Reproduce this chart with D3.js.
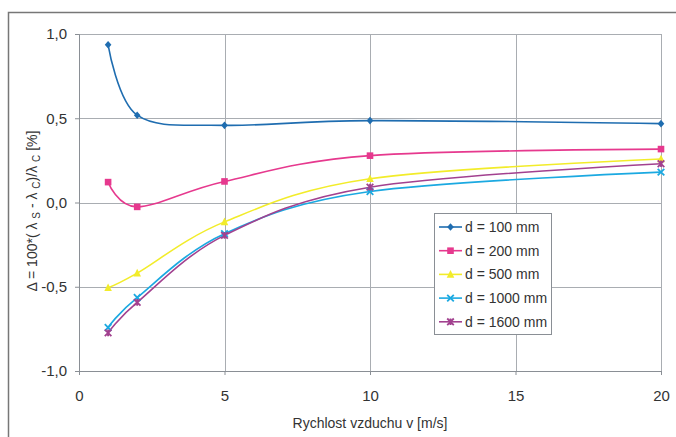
<!DOCTYPE html>
<html>
<head>
<meta charset="utf-8">
<script src="https://cdn.jsdelivr.net/npm/d3@7"></script>
<style>
  body { margin: 0; background: #fff; }
  svg { display: block; font-family: "Liberation Sans", Arial, sans-serif; }
</style>
</head>
<body>
<svg id="chart" width="676" height="437"></svg>
<script>
// data
const speeds = [1, 2, 5, 10, 20];
const d100 = [0.936, 0.518, 0.458, 0.486, 0.468];
const d200 = [0.121, -0.026, 0.125, 0.278, 0.317];
const d500 = [-0.506, -0.419, -0.115, 0.141, 0.258];
const d1000 = [-0.742, -0.564, -0.185, 0.065, 0.18];
const d1600 = [-0.774, -0.593, -0.195, 0.091, 0.23];
const xTicks = [0, 5, 10, 15, 20];
const yTicks = [-1, -0.5, 0, 0.5, 1];

const series = [
  {name: 'd = 100 mm', values: d100, color: '#1f6db0', symbol: 'diamond'},
  {name: 'd = 200 mm', values: d200, color: '#e6398e', symbol: 'square'},
  {name: 'd = 500 mm', values: d500, color: '#f2ec2a', symbol: 'triangle'},
  {name: 'd = 1000 mm', values: d1000, color: '#1ba9e1', symbol: 'cross'},
  {name: 'd = 1600 mm', values: d1600, color: '#a2418f', symbol: 'star'}
];

const svg = d3.select('#chart');
const margin = {top: 34, right: 15, bottom: 66, left: 79};
const width = 676 - margin.left - margin.right;
const height = 437 - margin.top - margin.bottom;

// outer frame (left + top edges visible)
svg.append('path')
  .attr('d', 'M8.5,437 V12.5 H676')
  .attr('fill', 'none')
  .attr('stroke', '#777')
  .attr('stroke-width', 1.5);

const g = svg.append('g').attr('transform', `translate(${margin.left}, ${margin.top})`);

const x = d3.scaleLinear().domain([0, 20]).range([0, width]);
const y = d3.scaleLinear().domain([-1, 1]).range([height, 0]);

const fmt = d => d3.format('.1f')(d).replace('.', ',').replace('−', '-');

// grid
g.append('g')
  .selectAll('line.h')
  .data(yTicks)
  .enter().append('line')
    .attr('x1', 0).attr('x2', width)
    .attr('y1', d => Math.round(y(d)) + 0.5).attr('y2', d => Math.round(y(d)) + 0.5)
    .attr('stroke', '#a9adb2');

g.append('g')
  .selectAll('line.v')
  .data(xTicks.slice(1))
  .enter().append('line')
    .attr('x1', d => Math.round(x(d)) + 0.5).attr('x2', d => Math.round(x(d)) + 0.5)
    .attr('y1', 0).attr('y2', height)
    .attr('stroke', '#a9adb2');

g.append('rect')
  .attr('x', 0.5).attr('y', 0.5)
  .attr('width', width).attr('height', height)
  .attr('fill', 'none')
  .attr('stroke', '#a9adb2');

// axes
const yAxis = g.append('g')
  .call(d3.axisLeft(y).tickValues(yTicks).tickFormat(fmt).tickSize(4).tickPadding(8));
const xAxis = g.append('g')
  .attr('transform', `translate(0, ${height})`)
  .call(d3.axisBottom(x).tickValues(xTicks).tickSize(4).tickPadding(15));

[xAxis, yAxis].forEach(a => {
  a.select('.domain').attr('stroke', '#8a8f95');
  a.selectAll('.tick line').attr('stroke', '#8a8f95');
  a.selectAll('.tick text')
    .attr('font-size', 15)
    .attr('font-family', '"Liberation Sans", Arial, sans-serif')
    .attr('fill', '#333');
});

// lines
const line = d3.line()
  .x((d, i) => x(speeds[i]))
  .y(d => y(d))
  .curve(d3.curveCardinal.tension(0));

g.selectAll('.series')
  .data(series)
  .enter().append('path')
    .attr('class', 'series')
    .attr('d', d => line(d.values))
    .attr('fill', 'none')
    .attr('stroke', d => d.color)
    .attr('stroke-width', 1.6);

function marker(sel, s, cx, cy) {
  const r = 3.3;
  if (s.symbol === 'diamond') {
    sel.append('path').attr('d', `M${cx},${cy - r - 0.5}L${cx + r},${cy}L${cx},${cy + r + 0.5}L${cx - r},${cy}Z`).attr('fill', s.color);
  } else if (s.symbol === 'square') {
    sel.append('rect').attr('x', cx - r).attr('y', cy - r).attr('width', 2 * r).attr('height', 2 * r).attr('fill', s.color);
  } else if (s.symbol === 'triangle') {
    sel.append('path').attr('d', `M${cx},${cy - r - 1}L${cx + r + 0.5},${cy + r}L${cx - r - 0.5},${cy + r}Z`).attr('fill', s.color);
  } else if (s.symbol === 'cross') {
    sel.append('path').attr('d', `M${cx - r},${cy - r}L${cx + r},${cy + r}M${cx + r},${cy - r}L${cx - r},${cy + r}`)
      .attr('stroke', s.color).attr('stroke-width', 1.8);
  } else {
    sel.append('path').attr('d', `M${cx - r},${cy - r}L${cx + r},${cy + r}M${cx + r},${cy - r}L${cx - r},${cy + r}M${cx},${cy - r}L${cx},${cy + r}`)
      .attr('stroke', s.color).attr('stroke-width', 1.8);
  }
}

series.forEach(s => {
  const mg = g.append('g');
  s.values.forEach((v, i) => marker(mg, s, x(speeds[i]), y(v)));
});

// legend
const legend = svg.append('g').attr('transform', 'translate(434, 213)');
legend.append('rect')
  .attr('x', 0.5).attr('y', 0.5)
  .attr('width', 117).attr('height', 121)
  .attr('fill', '#fff')
  .attr('stroke', '#8a8f95');

series.forEach((s, i) => {
  const row = legend.append('g').attr('transform', `translate(0, ${14 + i * 23.7})`);
  row.append('line')
    .attr('x1', 5).attr('x2', 28)
    .attr('stroke', s.color).attr('stroke-width', 1.6);
  marker(row, s, 16.5, 0);
  row.append('text')
    .attr('x', 31).attr('y', 5)
    .attr('font-size', 14)
    .attr('fill', '#333')
    .text(s.name);
});

// axis titles
svg.append('text')
  .attr('x', margin.left + width / 2)
  .attr('y', 428)
  .attr('text-anchor', 'middle')
  .attr('font-size', 14)
  .attr('fill', '#333')
  .text('Rychlost vzduchu v [m/s]');

const yt = svg.append('text')
  .attr('transform', 'translate(37, 211) rotate(-90)')
  .attr('text-anchor', 'middle')
  .attr('font-size', 14)
  .attr('fill', '#333');
yt.append('tspan').text('Δ = 100*( λ ');
yt.append('tspan').attr('font-size', 10).attr('dy', 3).text('S');
yt.append('tspan').attr('dy', -3).text(' - λ ');
yt.append('tspan').attr('font-size', 10).attr('dy', 3).text('C');
yt.append('tspan').attr('dy', -3).text(')/λ ');
yt.append('tspan').attr('font-size', 10).attr('dy', 3).text('C');
yt.append('tspan').attr('dy', -3).text(' [%]');
</script>
</body>
</html>
